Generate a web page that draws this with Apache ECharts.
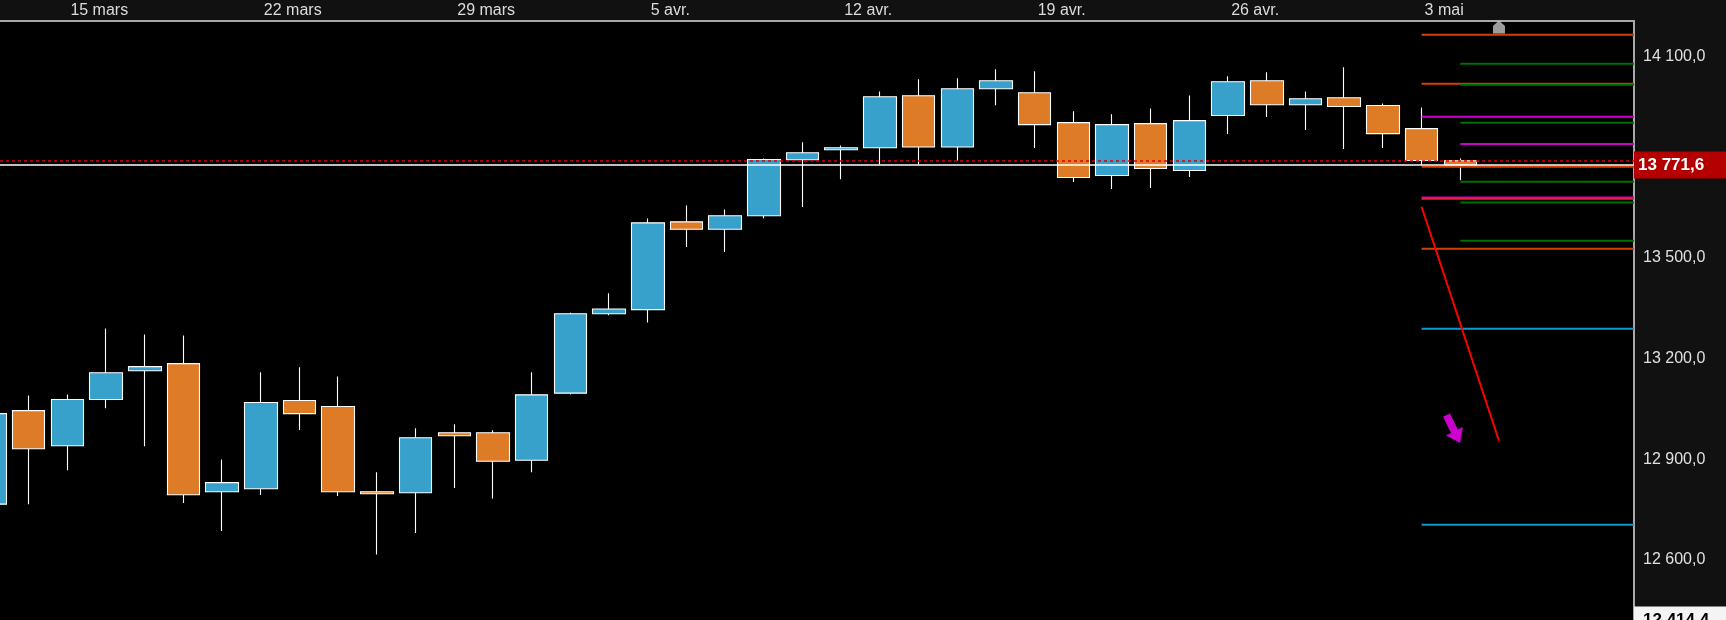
<!DOCTYPE html>
<html><head><meta charset="utf-8">
<script src="https://cdn.jsdelivr.net/npm/echarts@6/dist/echarts.min.js"></script>
<style>html,body{margin:0;padding:0;background:#111;} #c{width:1726px;height:620px;}</style>
</head><body><div id="c"></div>
<script>
// ---- data ----
const dates = ['11 mars','12 mars','15 mars','16 mars','17 mars','18 mars','19 mars','22 mars','23 mars','24 mars','25 mars','26 mars','29 mars','30 mars','31 mars','1 avr.','2 avr.','5 avr.','6 avr.','7 avr.','8 avr.','9 avr.','12 avr.','13 avr.','14 avr.','15 avr.','16 avr.','19 avr.','20 avr.','21 avr.','22 avr.','23 avr.','26 avr.','27 avr.','28 avr.','29 avr.','30 avr.','3 mai','4 mai'];
const opens  = [12760,13039,12934,13072,13158,13179,12797,12806,13069,13051,12797,12794,12973,12973,12891,13091,13328,13340,13602,13580,13620,13787,13817,13823,13978,13825,13999,13987,13898,13740,13895,13755,13919,14023,13951,13972,13949,13880,13784.4];
const closes = [13030,12925,13072,13152,13170,12788,12824,13063,13030,12797,12791,12958,12964,12888,13086,13328,13342,13599,13580,13620,13788,13808,13823,13975,13825,13999,14023,13892,13734,13892,13761,13904,14020,13951,13969,13946,13865,13785,13771.6];
const lows   = [12740,12760,12861,13046,12933,12763,12680,12787,12981,12784,12610,12674,12808,12777,12855,13087,13323,13302,13527,13512,13613,13646,13729,13773,13773,13785,13950,13822,13721,13700,13703,13736,13864,13915,13876,13819,13822,13772,13726];
const highs  = [13060,13084,13087,13284,13266,13263,12893,13153,13168,13141,12855,12986,12998,12980,13153,13331,13389,13612,13651,13639,13791,13839,13830,13991,14027,14030,14057,14051,13932,13923,13940,13979,14036,14048,13991,14063,13955,13943,13791];
const tickIdx = [2,7,12,17,22,27,32,37];
const tickLabels = ['15 mars','22 mars','29 mars','5 avr.','12 avr.','19 avr.','26 avr.','3 mai'];
const yTicks = [12600,12900,13200,13500,14100];
const lastPrice = 13771.6;
const dayOpen = 13784.4;
const cursorPrice = 12414.4;
const yMin = 12414.4, yMax = 14201;
const xMin = 0.2585, xMax = 42.49;
const levelValues = [14160.3,14073.8,14014.2,14011.2,13915.7,13897.8,13834.3,13766.6,13721.9,13674.7,13670.8,13659.8,13545.8,13522,13283.4,12698.7];
const levelFrom   = [37,38,37,38,37,38,38,37,38,37,37,38,38,37,37,37];
const levelKinds  = ['r','g','r','g','m','g','m','r','g','m','p','g','g','r','b','b'];
const trendLine = [[37,13647],[39,12949]];
const arrowPoint = [37.82,12984];
const homePoint = [39,14183];

// ---- styles ----
const kindColor = {r:'#d2410a', g:'#007000', m:'#cc00cc', p:'#e8203a', b:'#0a9ad0'};
const FONT = "'Liberation Sans', Arial, sans-serif";
function fr(v){
  const s = v.toFixed(1).split('.');
  return s[0].replace(/\B(?=(\d{3})+(?!\d))/g,' ') + ',' + s[1];
}

const candleData = opens.map((o,i)=>[i,o,closes[i],lows[i],highs[i]]);

const series = [{
  type:'candlestick',
  data: candleData,
  encode:{x:0, y:[1,2,3,4]},
  barWidth: 33,
  clip: true,
  itemStyle:{color:'#37a1cc', color0:'#de7b27', borderColor:'#ffffff', borderColor0:'#ffffff', borderWidth:1.1},
  markLine:{
    silent:true, symbol:'none', animation:false,
    data:[
      {yAxis: dayOpen, lineStyle:{color:'#e00000', type:[3,3], width:1.5}, label:{show:false}},
      {yAxis: lastPrice, lineStyle:{color:'#ffffff', type:'solid', width:1.5},
        label:{show:true, position:'end', distance:0, formatter: ()=>fr(lastPrice),
          color:'#fff', fontWeight:'bold', fontSize:17, fontFamily:FONT,
          backgroundColor:'#b40000', padding:[5,40,5,4]}}
    ]
  }
}];

levelValues.forEach((v,k)=>{
  series.push({type:'line', data:[[levelFrom[k],v],[xMax,v]], symbol:'none', silent:true, z:3,
    lineStyle:{color:kindColor[levelKinds[k]], width:2}});
});
series.push({type:'line', data:trendLine, symbol:'none', silent:true, z:4, lineStyle:{color:'#ff0000', width:2}});
series.push({type:'scatter', data:[arrowPoint], silent:true, z:4,
  symbol:'path://M6,0 L14,0 L14,18 L20,18 L10,31 L0,18 L6,18 Z', symbolSize:[19,31], symbolRotate:26,
  itemStyle:{color:'#ff00ff'}});
series.push({type:'scatter', data:[homePoint], silent:true, z:6, clip:false,
  symbol:'path://M0,5 L5,0 L10,5 L10,12 L0,12 Z', symbolSize:[12,13],
  itemStyle:{color:'#c4c4c4'}});

const chart = echarts.init(document.getElementById('c'), null, {renderer:'canvas'});
chart.setOption({
  animation:false,
  backgroundColor:'#111111',
  textStyle:{fontFamily:FONT},
  grid:{left:0, right:92, top:21, bottom:0, show:true, backgroundColor:'#000', borderWidth:0,
    containLabel:false, outerBoundsMode:'none'},
  xAxis:{type:'value', position:'top', min:xMin, max:xMax,
    axisLine:{show:true, onZero:false, lineStyle:{color:'#a8a8a8', width:2}},
    axisTick:{show:false}, splitLine:{show:false},
    axisLabel:{customValues:tickIdx, formatter:(v)=>tickLabels[tickIdx.indexOf(Math.round(v))]||'',
      color:'#dcdcdc', fontSize:16, fontFamily:FONT, align:'left', padding:[0,0,0,3], margin:2}
  },
  yAxis:{type:'value', position:'right', min:yMin, max:yMax, scale:true,
    axisLine:{show:true, lineStyle:{color:'#a8a8a8', width:2}},
    axisTick:{show:false}, splitLine:{show:false},
    axisLabel:{customValues:[cursorPrice].concat(yTicks), margin:0, showMinLabel:true, hideOverlap:false,
      formatter:(v)=> Math.abs(v-cursorPrice)<0.01 ? '{c|'+fr(v)+'}' : '{n|'+fr(v)+'}',
      rich:{
        n:{color:'#e0e0e0', fontSize:16, fontFamily:FONT, padding:[4,0,0,9]},
        c:{color:'#000', fontSize:17, fontWeight:'bold', fontFamily:FONT, backgroundColor:'#f4f4f4', padding:[5,40,5,9]}
      }}
  },
  series: series
});
</script></body></html>
